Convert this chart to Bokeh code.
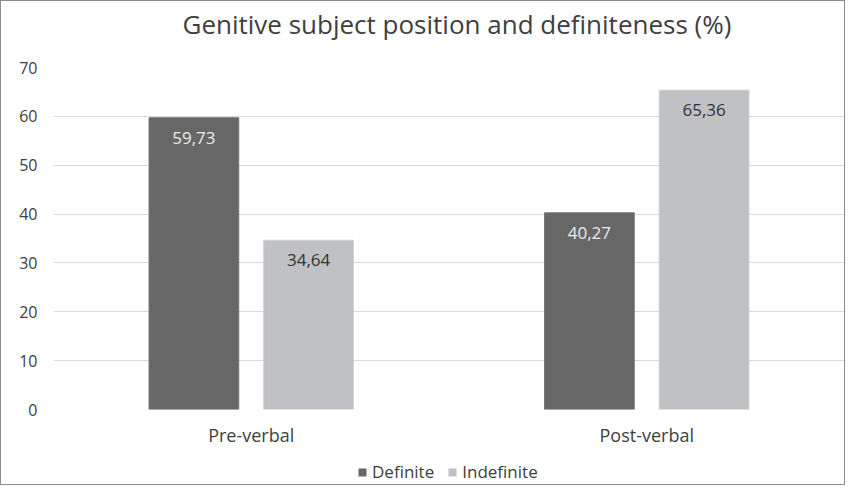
from bokeh.plotting import figure
from bokeh.models import FactorRange, Range1d, FixedTicker, ColumnDataSource, Legend, LegendItem, Title
from bokeh.layouts import column
from bokeh.transform import dodge
from bokeh.core.properties import value
from bokeh.embed import file_html
from bokeh.resources import INLINE

categories = ["Pre-verbal", "Post-verbal"]
definite = [59.73, 40.27]
indefinite = [34.64, 65.36]
y_ticks = [0, 10, 20, 30, 40, 50, 60, 70]
series_names = ["Definite", "Indefinite"]
series_colors = ["#676767", "#c0c1c4"]
title_text = "Genitive subject position and definiteness (%)"

def fmt(v):
    return f"{v:.2f}".replace(".", ",")

src = ColumnDataSource(dict(
    cat=categories,
    definite=definite,
    indefinite=indefinite,
    def_lbl=[fmt(v) for v in definite],
    ind_lbl=[fmt(v) for v in indefinite],
))

FONT = "Open Sans"
TXT = "#404040"
W = 843

p = figure(
    width=W, height=448,
    x_range=FactorRange(factors=categories, range_padding=0),
    y_range=Range1d(0, 70),
    output_backend="svg", toolbar_location=None,
    min_border_left=52, min_border_right=0, min_border_top=66, min_border_bottom=40,
)
p.title.text = ""

# spacer between the title and the plot frame, then the title itself
p.add_layout(Title(text=" ", text_font_size="1px", standoff=23), "above")
p.add_layout(Title(text=title_text, align="left", offset=129, standoff=0,
                   text_font=FONT, text_font_size="26px", text_font_style="normal",
                   text_color=TXT), "above")

BW = 0.227
OFF = 0.145
p.vbar(x=dodge("cat", -OFF, range=p.x_range), top="definite", width=BW, source=src,
       fill_color=series_colors[0], line_color="#7a7a7a", line_width=1)
p.vbar(x=dodge("cat", OFF, range=p.x_range), top="indefinite", width=BW, source=src,
       fill_color=series_colors[1], line_color="#d0d1d3", line_width=1)

p.text(x=dodge("cat", -OFF, range=p.x_range), y="definite", text="def_lbl", source=src,
       text_align="center", text_baseline="middle", y_offset=20,
       text_font=value(FONT), text_font_size="17px", text_color="#ececec")
p.text(x=dodge("cat", OFF, range=p.x_range), y="indefinite", text="ind_lbl", source=src,
       text_align="center", text_baseline="middle", y_offset=20,
       text_font=value(FONT), text_font_size="17px", text_color="#333333")

p.xgrid.grid_line_color = None
p.ygrid.grid_line_color = "#d9d9d9"
p.ygrid.grid_line_width = 1
p.yaxis.ticker = FixedTicker(ticks=y_ticks)
for ax in (p.xaxis, p.yaxis):
    ax.axis_line_color = None
    ax.major_tick_line_color = None
    ax.minor_tick_line_color = None
    ax.major_label_text_font = FONT
    ax.major_label_text_font_size = "16px"
    ax.major_label_text_color = TXT
p.xaxis.major_label_text_font_size = "18px"
p.yaxis.major_label_standoff = 10
p.xaxis.major_label_standoff = 7
p.outline_line_color = None

# legend strip (its bars lie well below its visible range, only the legend shows)
p2 = figure(width=W, height=35,
            x_range=FactorRange(factors=categories), y_range=Range1d(100, 101),
            x_axis_location=None, y_axis_location=None,
            output_backend="svg", toolbar_location=None,
            min_border_left=0, min_border_right=0, min_border_top=0, min_border_bottom=0)
p2.grid.grid_line_color = None
p2.outline_line_color = None
rs = [p2.vbar(x="cat", top=col, width=0.2, source=src, fill_color=c, line_color=None)
      for col, c in zip(["definite", "indefinite"], series_colors)]
lg = Legend(items=[LegendItem(label=n, renderers=[r]) for n, r in zip(series_names, rs)],
            orientation="horizontal", location=(304, 1))
lg.border_line_color = None
lg.background_fill_alpha = 0
lg.padding = 0
lg.margin = 0
lg.spacing = 13
lg.glyph_width = 10
lg.glyph_height = 10
lg.label_standoff = 5
lg.label_text_font = FONT
lg.label_text_font_size = "17px"
lg.label_text_color = TXT
p2.add_layout(lg, "center")

layout = column(p, p2, spacing=0, styles={"border": "1px solid #8c8c8c"})

open("out.html", "w").write(file_html(layout, INLINE))
